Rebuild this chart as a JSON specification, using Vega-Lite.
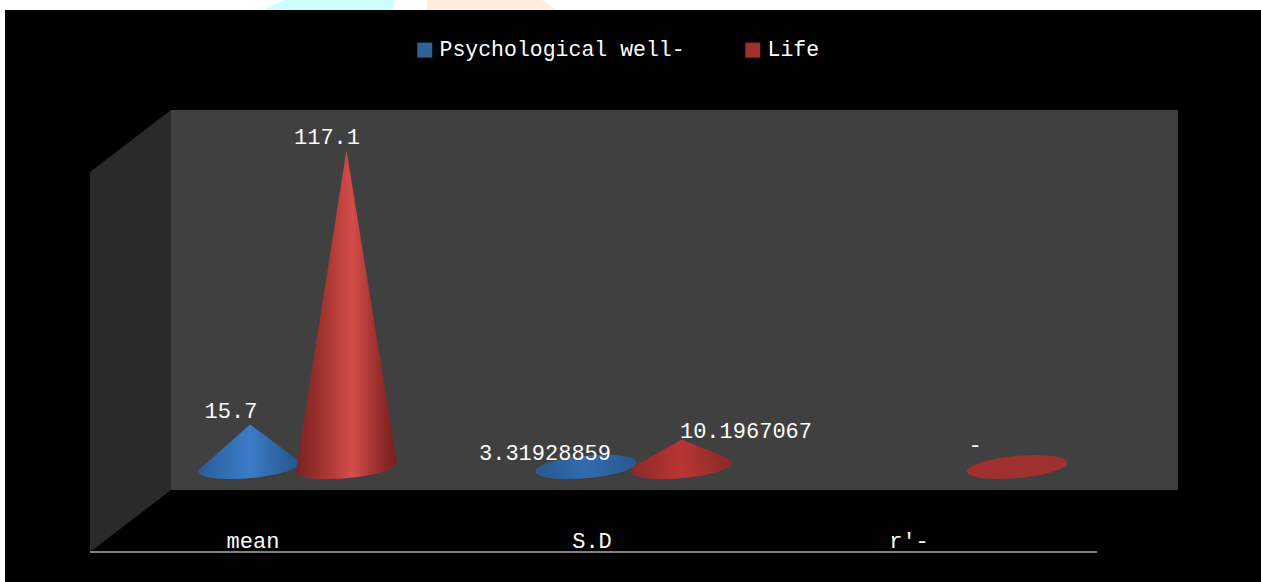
{
"$schema":"https://vega.github.io/schema/vega-lite/v6.json",
"width":1261,"height":582,"padding":0,
"autosize":{"type":"fit","contains":"padding"},
"background":"white",
"config":{"view":{"stroke":null},"text":{"font":"Liberation Mono"}},
"datasets":{
"frame":[
{"part":"panel","pos":-0.8705,"value":168.82,"base":-42.48},
{"part":"panel","pos":2.8676,"value":168.82,"base":-42.48},
{"part":"back","pos":-0.3765,"value":131.88,"base":-8.5},
{"part":"back","pos":2.6205,"value":131.88,"base":-8.5},
{"part":"side","pos":-0.6176,"value":109.0,"base":-31.4},
{"part":"side","pos":-0.3765,"value":131.88,"base":-8.5},
{"part":"cyan","pos":-0.1027,"value":168.82,"base":168.82},
{"part":"cyan","pos":-0.0372,"value":172.52,"base":168.82},
{"part":"cyan","pos":0.2842,"value":172.52,"base":168.82},
{"part":"orange","pos":0.3854,"value":172.52,"base":168.82},
{"part":"orange","pos":0.7277,"value":172.52,"base":168.82},
{"part":"orange","pos":0.7693,"value":168.82,"base":168.82}
],
"axisline":[{"pos":-0.6176,"pos2":2.3794,"value":-31.4}],
"cones":[
{"cone":"mean-blue","pos":-0.2893,"value":-0.55,"base":-0.55},
{"cone":"mean-blue","pos":-0.1413,"value":15.7,"base":0},
{"cone":"mean-blue","pos":0.0006,"value":2.7,"base":2.7},
{"cone":"sd-blue","pos":0.7083,"value":-1.48,"base":-1.48},
{"cone":"sd-blue","pos":0.8586,"value":3.32,"base":0},
{"cone":"sd-blue","pos":1.0089,"value":1.48,"base":1.48},
{"cone":"mean-red","pos":-0.0042,"value":-1.48,"base":-1.48},
{"cone":"mean-red","pos":0.1458,"value":117.1,"base":0},
{"cone":"mean-red","pos":0.2958,"value":1.77,"base":1.77},
{"cone":"sd-red","pos":0.9994,"value":0.11,"base":0.11},
{"cone":"sd-red","pos":1.1429,"value":10.2,"base":0},
{"cone":"sd-red","pos":1.2804,"value":3.21,"base":3.21}
],
"bases":[
{"cone":"mean-blue","category":"mean","series":"Psychological well-","pos":-0.1443,"value":0},
{"cone":"sd-blue","category":"S.D","series":"Psychological well-","pos":0.8586,"value":0},
{"cone":"mean-red","category":"mean","series":"Life","pos":0.1458,"value":0},
{"cone":"sd-red","category":"S.D","series":"Life","pos":1.1429,"value":0},
{"cone":"r-red","category":"r'-","series":"Life","pos":2.1414,"value":0}
],
"labels":[
{"text":"117.1","pos":0.0878,"value":119.3},
{"text":"15.7","pos":-0.1979,"value":18.1},
{"text":"3.31928859","pos":0.7366,"value":2.59},
{"text":"10.1967067","pos":1.3348,"value":10.71},
{"text":"-","pos":2.0164,"value":5.54},
{"text":"mean","pos":-0.1324,"value":-29.9},
{"text":"S.D","pos":0.8765,"value":-29.9},
{"text":"r'-","pos":1.8199,"value":-29.9}
]
},
"encoding":{
"x":{"field":"pos","type":"quantitative","scale":{"domain":[-0.8854,2.8676],"nice":false,"zero":false},"axis":null},
"y":{"field":"value","type":"quantitative","scale":{"domain":[-42.48,172.52],"nice":false,"zero":false},"axis":null}
},
"layer":[
{"data":{"name":"frame"},"transform":[{"filter":"datum.part==='cyan'"}],"mark":{"type":"area","color":"#ccfefe"},"encoding":{"y2":{"field":"base"}}},
{"data":{"name":"frame"},"transform":[{"filter":"datum.part==='orange'"}],"mark":{"type":"area","color":"#ffeedd"},"encoding":{"y2":{"field":"base"}}},
{"data":{"name":"frame"},"transform":[{"filter":"datum.part==='panel'"}],"mark":{"type":"area","color":"#000000"},"encoding":{"y2":{"field":"base"}}},
{"data":{"name":"frame"},"transform":[{"filter":"datum.part==='back'"}],"mark":{"type":"area","color":"#404040"},"encoding":{"y2":{"field":"base"}}},
{"data":{"name":"frame"},"transform":[{"filter":"datum.part==='side'"}],"mark":{"type":"area","color":"#2a2a2a"},"encoding":{"y2":{"field":"base"}}},
{"data":{"name":"axisline"},"mark":{"type":"rule","color":"#808080","strokeWidth":2},"encoding":{"x2":{"field":"pos2"}}},
{"data":{"name":"bases"},"mark":{"type":"point","filled":true,"opacity":1,"size":10201,"shape":"M-0.996,0.09A1,0.22,-5.2,1,1,0.996,-0.09A1,0.22,-5.2,1,1,-0.996,0.09Z"},
"encoding":{"color":{"field":"series","type":"nominal","scale":{"domain":["Psychological well-","Life"],"range":["#2f6298","#9e302d"]},
"legend":{"title":null,"orient":"none","legendX":414,"legendY":39,"direction":"horizontal","columns":2,"symbolType":"square","symbolSize":225,"symbolOpacity":1,"labelFontSize":21.5,"labelFont":"Liberation Mono","labelColor":"#ffffff","labelOffset":4,"columnPadding":57,"labelLimit":400}}}},
{"data":{"name":"bases"},"transform":[{"filter":"datum.cone==='mean-blue'"}],"mark":{"type":"point","filled":true,"opacity":1,"size":10201,"shape":"M-0.996,0.09A1,0.22,-5.2,1,1,0.996,-0.09A1,0.22,-5.2,1,1,-0.996,0.09Z","color":{"gradient":"linear","x1":0,"y1":0,"x2":1,"y2":0,"stops":[{"offset":0,"color":"#2a5d98"},{"offset":0.5,"color":"#3b7cc8"},{"offset":1,"color":"#265489"}]}}},
{"data":{"name":"cones"},"transform":[{"filter":"datum.cone==='mean-blue'"}],"mark":{"type":"area","color":{"gradient":"linear","x1":0,"y1":0,"x2":1,"y2":0,"stops":[{"offset":0,"color":"#2a5d98"},{"offset":0.5,"color":"#3b7cc8"},{"offset":1,"color":"#265489"}]}},"encoding":{"y2":{"field":"base"}}},
{"data":{"name":"bases"},"transform":[{"filter":"datum.cone==='sd-blue'"}],"mark":{"type":"point","filled":true,"opacity":1,"size":10201,"shape":"M-0.996,0.09A1,0.22,-5.2,1,1,0.996,-0.09A1,0.22,-5.2,1,1,-0.996,0.09Z","color":{"gradient":"linear","x1":0,"y1":0,"x2":1,"y2":0,"stops":[{"offset":0,"color":"#28588f"},{"offset":0.5,"color":"#336bad"},{"offset":1,"color":"#28588f"}]}}},
{"data":{"name":"cones"},"transform":[{"filter":"datum.cone==='sd-blue'"}],"mark":{"type":"area","color":{"gradient":"linear","x1":0,"y1":0,"x2":1,"y2":0,"stops":[{"offset":0,"color":"#28588f"},{"offset":0.5,"color":"#336bad"},{"offset":1,"color":"#28588f"}]}},"encoding":{"y2":{"field":"base"}}},
{"data":{"name":"bases"},"transform":[{"filter":"datum.cone==='mean-red'"}],"mark":{"type":"point","filled":true,"opacity":1,"size":10201,"shape":"M-0.996,0.09A1,0.22,-5.2,1,1,0.996,-0.09A1,0.22,-5.2,1,1,-0.996,0.09Z","color":{"gradient":"linear","x1":0,"y1":0,"x2":1,"y2":0,"stops":[{"offset":0,"color":"#7a2321"},{"offset":0.25,"color":"#9f322f"},{"offset":0.55,"color":"#d44e4b"},{"offset":0.8,"color":"#9c302d"},{"offset":1,"color":"#722120"}]}}},
{"data":{"name":"cones"},"transform":[{"filter":"datum.cone==='mean-red'"}],"mark":{"type":"area","color":{"gradient":"linear","x1":0,"y1":0,"x2":1,"y2":0,"stops":[{"offset":0,"color":"#7a2321"},{"offset":0.25,"color":"#9f322f"},{"offset":0.55,"color":"#d44e4b"},{"offset":0.8,"color":"#9c302d"},{"offset":1,"color":"#722120"}]}},"encoding":{"y2":{"field":"base"}}},
{"data":{"name":"bases"},"transform":[{"filter":"datum.cone==='sd-red'"}],"mark":{"type":"point","filled":true,"opacity":1,"size":10201,"shape":"M-0.996,0.09A1,0.22,-5.2,1,1,0.996,-0.09A1,0.22,-5.2,1,1,-0.996,0.09Z","color":{"gradient":"linear","x1":0,"y1":0,"x2":1,"y2":0,"stops":[{"offset":0,"color":"#8c2a28"},{"offset":0.5,"color":"#b83634"},{"offset":1,"color":"#8a2a28"}]}}},
{"data":{"name":"cones"},"transform":[{"filter":"datum.cone==='sd-red'"}],"mark":{"type":"area","color":{"gradient":"linear","x1":0,"y1":0,"x2":1,"y2":0,"stops":[{"offset":0,"color":"#8c2a28"},{"offset":0.5,"color":"#b83634"},{"offset":1,"color":"#8a2a28"}]}},"encoding":{"y2":{"field":"base"}}},
{"data":{"name":"labels"},"mark":{"type":"text","font":"Liberation Mono","fontSize":22,"color":"#ffffff","align":"center","baseline":"alphabetic"},"encoding":{"text":{"field":"text","type":"nominal"}}}
]
}
